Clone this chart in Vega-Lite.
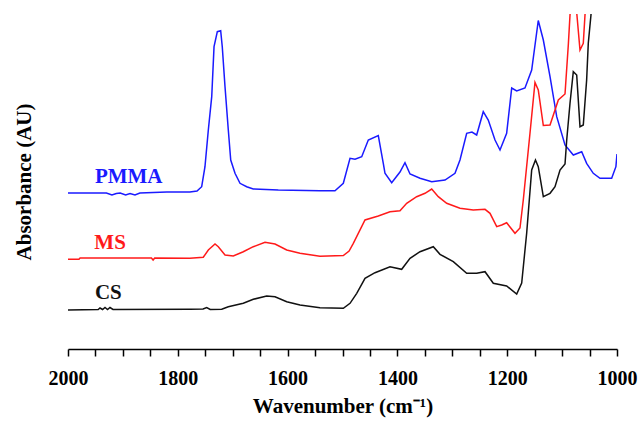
{
  "$schema": "https://vega.github.io/schema/vega-lite/v6.json",
  "width": 549,
  "height": 335,
  "autosize": {"type": "none"},
  "padding": {"left": 68, "top": 14, "right": 24, "bottom": 76},
  "background": "white",
  "config": {"view": {"stroke": null}, "font": "Liberation Serif"},
  "datasets": {
    "spectra": [
      {"s":"PMMA","wn":2000,"v":156},{"s":"PMMA","wn":1960,"v":156},{"s":"PMMA","wn":1930,"v":156},{"s":"PMMA","wn":1920,"v":154},{"s":"PMMA","wn":1912,"v":155.5},{"s":"PMMA","wn":1905,"v":156},{"s":"PMMA","wn":1895,"v":154},{"s":"PMMA","wn":1887,"v":155.5},{"s":"PMMA","wn":1878,"v":154},{"s":"PMMA","wn":1869,"v":156},{"s":"PMMA","wn":1820,"v":157},{"s":"PMMA","wn":1778,"v":157},{"s":"PMMA","wn":1765,"v":158},{"s":"PMMA","wn":1756.5,"v":162.3},{"s":"PMMA","wn":1750.5,"v":182.3},{"s":"PMMA","wn":1744.4,"v":219},{"s":"PMMA","wn":1738.2,"v":252.3},{"s":"PMMA","wn":1734,"v":302.3},{"s":"PMMA","wn":1728,"v":317.3},{"s":"PMMA","wn":1721.9,"v":318.3},{"s":"PMMA","wn":1719,"v":302.3},{"s":"PMMA","wn":1714,"v":262.3},{"s":"PMMA","wn":1708,"v":219},{"s":"PMMA","wn":1703.6,"v":189},{"s":"PMMA","wn":1695.8,"v":175.7},{"s":"PMMA","wn":1686.7,"v":165.7},{"s":"PMMA","wn":1674.5,"v":162.3},{"s":"PMMA","wn":1662.5,"v":160},{"s":"PMMA","wn":1617,"v":159},{"s":"PMMA","wn":1541,"v":158.3},{"s":"PMMA","wn":1513.7,"v":158.3},{"s":"PMMA","wn":1498.5,"v":165.7},{"s":"PMMA","wn":1486.3,"v":190.7},{"s":"PMMA","wn":1477.2,"v":189.7},{"s":"PMMA","wn":1465,"v":192.3},{"s":"PMMA","wn":1453,"v":209},{"s":"PMMA","wn":1434.8,"v":213.5},{"s":"PMMA","wn":1425.7,"v":185.7},{"s":"PMMA","wn":1422.6,"v":175.7},{"s":"PMMA","wn":1410.4,"v":166.3},{"s":"PMMA","wn":1395.3,"v":177},{"s":"PMMA","wn":1386.2,"v":186.3},{"s":"PMMA","wn":1377,"v":175},{"s":"PMMA","wn":1358.8,"v":170.7},{"s":"PMMA","wn":1337.5,"v":167.3},{"s":"PMMA","wn":1313.3,"v":169},{"s":"PMMA","wn":1295.1,"v":175.7},{"s":"PMMA","wn":1286,"v":189},{"s":"PMMA","wn":1273.8,"v":215.7},{"s":"PMMA","wn":1264.2,"v":217},{"s":"PMMA","wn":1255.6,"v":214},{"s":"PMMA","wn":1243.6,"v":237.3},{"s":"PMMA","wn":1234.5,"v":229},{"s":"PMMA","wn":1222.2,"v":209},{"s":"PMMA","wn":1213.1,"v":199},{"s":"PMMA","wn":1201,"v":215.7},{"s":"PMMA","wn":1191.8,"v":261},{"s":"PMMA","wn":1182.7,"v":258},{"s":"PMMA","wn":1167.6,"v":261},{"s":"PMMA","wn":1155.4,"v":279},{"s":"PMMA","wn":1143.4,"v":328.5},{"s":"PMMA","wn":1134.2,"v":309},{"s":"PMMA","wn":1122,"v":272.3},{"s":"PMMA","wn":1109.8,"v":232.3},{"s":"PMMA","wn":1094.7,"v":204},{"s":"PMMA","wn":1079.6,"v":194},{"s":"PMMA","wn":1064.3,"v":197.3},{"s":"PMMA","wn":1055.3,"v":185.7},{"s":"PMMA","wn":1043.2,"v":175.7},{"s":"PMMA","wn":1031,"v":170.7},{"s":"PMMA","wn":1009.7,"v":170.7},{"s":"PMMA","wn":1002,"v":182.3},{"s":"PMMA","wn":1000,"v":195},
      {"s":"MS","wn":2000,"v":89.7},{"s":"MS","wn":1980,"v":89.7},{"s":"MS","wn":1978,"v":91},{"s":"MS","wn":1848,"v":91},{"s":"MS","wn":1845,"v":89},{"s":"MS","wn":1842,"v":91},{"s":"MS","wn":1778,"v":90.7},{"s":"MS","wn":1753.6,"v":91.7},{"s":"MS","wn":1744.4,"v":99},{"s":"MS","wn":1732.2,"v":105},{"s":"MS","wn":1726.2,"v":102.3},{"s":"MS","wn":1714,"v":94},{"s":"MS","wn":1698.9,"v":93},{"s":"MS","wn":1680.7,"v":97.3},{"s":"MS","wn":1662.5,"v":102.3},{"s":"MS","wn":1641.2,"v":106.7},{"s":"MS","wn":1622.9,"v":105},{"s":"MS","wn":1601.6,"v":99},{"s":"MS","wn":1577.4,"v":95.7},{"s":"MS","wn":1541,"v":92.7},{"s":"MS","wn":1498.5,"v":93.5},{"s":"MS","wn":1488,"v":98},{"s":"MS","wn":1480.3,"v":105.7},{"s":"MS","wn":1459,"v":129},{"s":"MS","wn":1434.8,"v":133},{"s":"MS","wn":1413.5,"v":137.3},{"s":"MS","wn":1395.3,"v":138.3},{"s":"MS","wn":1383.1,"v":145.7},{"s":"MS","wn":1364.9,"v":152.3},{"s":"MS","wn":1349.7,"v":155.7},{"s":"MS","wn":1337.5,"v":160},{"s":"MS","wn":1325.5,"v":152.3},{"s":"MS","wn":1310.2,"v":145.7},{"s":"MS","wn":1286,"v":140.7},{"s":"MS","wn":1261.8,"v":139},{"s":"MS","wn":1240.4,"v":139.7},{"s":"MS","wn":1231.3,"v":135.7},{"s":"MS","wn":1219.1,"v":122.3},{"s":"MS","wn":1210,"v":124},{"s":"MS","wn":1201,"v":126.3},{"s":"MS","wn":1185.8,"v":115.7},{"s":"MS","wn":1176.7,"v":121},{"s":"MS","wn":1170.7,"v":149},{"s":"MS","wn":1158.5,"v":215.7},{"s":"MS","wn":1149.4,"v":266.5},{"s":"MS","wn":1143.4,"v":259},{"s":"MS","wn":1134.2,"v":223.5},{"s":"MS","wn":1122,"v":224},{"s":"MS","wn":1112.9,"v":239},{"s":"MS","wn":1106.9,"v":249},{"s":"MS","wn":1094.7,"v":255},{"s":"MS","wn":1088.7,"v":304},{"s":"MS","wn":1085.6,"v":334},{"s":"MS","wn":1080,"v":370},{"s":"MS","wn":1073,"v":334},{"s":"MS","wn":1067.4,"v":299},{"s":"MS","wn":1061.4,"v":305.7},{"s":"MS","wn":1058.3,"v":334},{"s":"MS","wn":1053,"v":370},
      {"s":"CS","wn":2000,"v":39},{"s":"CS","wn":1945,"v":39.5},{"s":"CS","wn":1941.7,"v":41},{"s":"CS","wn":1937,"v":39.5},{"s":"CS","wn":1932.6,"v":41.5},{"s":"CS","wn":1928,"v":39.5},{"s":"CS","wn":1923.5,"v":41.5},{"s":"CS","wn":1918,"v":39.5},{"s":"CS","wn":1778,"v":39.7},{"s":"CS","wn":1754,"v":40},{"s":"CS","wn":1747.4,"v":41.5},{"s":"CS","wn":1741,"v":39.5},{"s":"CS","wn":1720,"v":39.7},{"s":"CS","wn":1708,"v":42.3},{"s":"CS","wn":1680.7,"v":45.7},{"s":"CS","wn":1662.5,"v":49.7},{"s":"CS","wn":1638.1,"v":53},{"s":"CS","wn":1622.9,"v":52.3},{"s":"CS","wn":1601.6,"v":47.3},{"s":"CS","wn":1577.4,"v":44},{"s":"CS","wn":1541,"v":41.3},{"s":"CS","wn":1498.5,"v":40.7},{"s":"CS","wn":1486.3,"v":45.7},{"s":"CS","wn":1474.1,"v":55.7},{"s":"CS","wn":1459,"v":70.7},{"s":"CS","wn":1440.8,"v":76.3},{"s":"CS","wn":1413.5,"v":82.3},{"s":"CS","wn":1392.2,"v":79.7},{"s":"CS","wn":1377,"v":90.7},{"s":"CS","wn":1358.8,"v":97.3},{"s":"CS","wn":1334.6,"v":102.3},{"s":"CS","wn":1322.4,"v":94.7},{"s":"CS","wn":1298.2,"v":87.3},{"s":"CS","wn":1273.8,"v":75.7},{"s":"CS","wn":1255.6,"v":75.7},{"s":"CS","wn":1240.4,"v":77.3},{"s":"CS","wn":1225.3,"v":65.7},{"s":"CS","wn":1201,"v":63},{"s":"CS","wn":1182.7,"v":55},{"s":"CS","wn":1173.6,"v":66},{"s":"CS","wn":1164.5,"v":116},{"s":"CS","wn":1155.4,"v":179},{"s":"CS","wn":1148.5,"v":189},{"s":"CS","wn":1143.4,"v":182.3},{"s":"CS","wn":1134.2,"v":152.3},{"s":"CS","wn":1122,"v":155.7},{"s":"CS","wn":1112.9,"v":162.3},{"s":"CS","wn":1103.8,"v":179},{"s":"CS","wn":1094.7,"v":185},{"s":"CS","wn":1091.6,"v":209},{"s":"CS","wn":1085.6,"v":245.7},{"s":"CS","wn":1079.6,"v":277.3},{"s":"CS","wn":1073.4,"v":274},{"s":"CS","wn":1067.4,"v":222.3},{"s":"CS","wn":1061.4,"v":224},{"s":"CS","wn":1055.3,"v":269},{"s":"CS","wn":1052.3,"v":305.7},{"s":"CS","wn":1047.4,"v":334},{"s":"CS","wn":1044,"v":370}
    ],
    "labels": [
      {"s":"PMMA","wn":1951,"v":166},
      {"s":"MS","wn":1952,"v":100},
      {"s":"CS","wn":1951,"v":50}
    ]
  },
  "encoding": {
    "x": {
      "field": "wn", "type": "quantitative",
      "scale": {"domain": [2000, 1000], "nice": false},
      "axis": {
        "title": "Wavenumber (cm⁻¹)",
        "values": [2000,1950,1900,1850,1800,1750,1700,1650,1600,1550,1500,1450,1400,1350,1300,1250,1200,1150,1100,1050,1000],
        "labelExpr": "datum.value % 200 === 0 ? datum.label : ''",
        "format": "d",
        "grid": false,
        "domainColor": "black", "domainWidth": 1.5,
        "tickColor": "black", "tickWidth": 1.5, "tickSize": 7,
        "labelFont": "Liberation Serif", "labelFontWeight": "bold", "labelFontSize": 20, "labelColor": "black",
        "labelPadding": 12, "labelFlush": false, "labelOverlap": false,
        "titleFont": "Liberation Serif", "titleFontWeight": "bold", "titleFontSize": 21, "titleColor": "black",
        "titlePadding": 7
      }
    },
    "y": {
      "field": "v", "type": "quantitative",
      "scale": {"domain": [0, 335], "nice": false},
      "axis": {
        "title": "Absorbance (AU)",
        "domain": false, "ticks": false, "labels": false, "grid": false,
        "titleFont": "Liberation Serif", "titleFontWeight": "bold", "titleFontSize": 21, "titleColor": "black",
        "titlePadding": 34
      }
    },
    "color": {
      "field": "s", "type": "nominal",
      "scale": {"domain": ["PMMA", "MS", "CS"], "range": ["#1a1aff", "#ff1a1a", "#111111"]},
      "legend": null
    }
  },
  "layer": [
    {
      "data": {"name": "spectra"},
      "mark": {"type": "line", "strokeWidth": 1.5, "clip": true, "interpolate": "linear"}
    },
    {
      "data": {"name": "labels"},
      "mark": {"type": "text", "align": "left", "baseline": "alphabetic", "font": "Liberation Serif", "fontWeight": "bold", "fontSize": 21},
      "encoding": {"text": {"field": "s"}}
    }
  ]
}
